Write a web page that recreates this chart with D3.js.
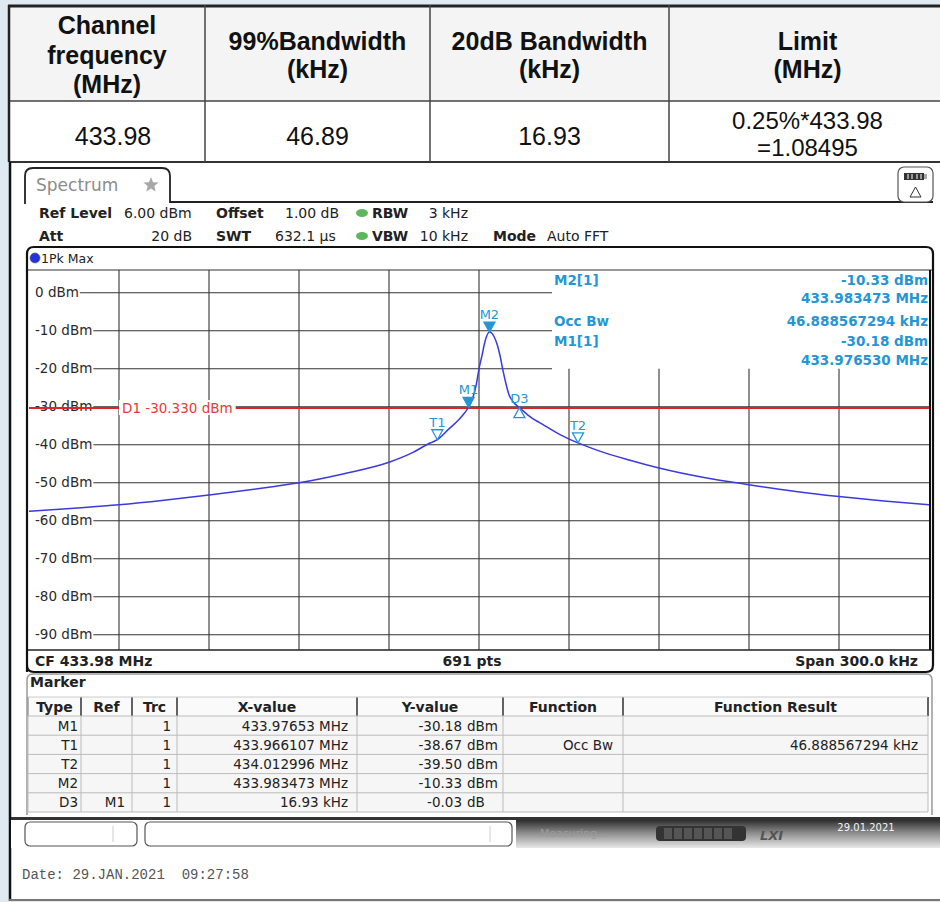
<!DOCTYPE html>
<html><head><meta charset="utf-8">
<script src="https://cdn.jsdelivr.net/npm/d3@7"></script>
<style>
html,body{margin:0;padding:0;background:#dfe9f1;}
svg{display:block;}
</style></head><body>
<svg id="c" width="940" height="902"></svg>
<script>
// ---------------- DATA ----------------
const tableHeaders = [["Channel","frequency","(MHz)"],["99%Bandwidth","(kHz)"],["20dB Bandwidth","(kHz)"],["Limit","(MHz)"]];
const tableValues = [["433.98"],["46.89"],["16.93"],["0.25%*433.98","=1.08495"]];

const centerFreq = 433.98;   // MHz
const spanKHz = 300;          // kHz
const refLevel = 6;           // dBm
const bottomLevel = -94;      // dBm
const yTickValues = [0,-10,-20,-30,-40,-50,-60,-70,-80,-90];
const displayLine = -30.33;

const traceFreq = [433.830,433.845,433.860,433.875,433.890,433.905,433.920,433.935,433.950,433.958,433.963,433.9661,433.970,433.973,433.9753,433.9765,433.978,433.979,433.980,433.981,433.982,433.9835,433.985,433.986,433.987,433.988,433.989,433.990,433.9915,433.9935,433.997,434.002,434.007,434.013,434.020,434.030,434.040,434.055,434.070,434.085,434.100,434.115,434.130];
const traceLevel = [-57.5,-56.7,-55.8,-54.6,-53.2,-51.7,-50.0,-47.6,-44.6,-42.0,-39.8,-38.67,-35.8,-33.6,-31.5,-30.18,-27.5,-24.5,-20.0,-16.5,-12.8,-10.33,-11.5,-13.5,-16.5,-20.5,-24.0,-26.8,-28.8,-30.21,-32.6,-35.0,-37.3,-39.5,-41.6,-44.0,-46.1,-48.6,-50.5,-52.2,-53.6,-54.8,-55.8];

const markerNames = ["M1","T1","T2","M2","D3"];
const markerKinds = ["fill","hollow","hollow","fill","delta"];
const markerFreq = [433.97653,433.966107,434.012996,433.983473,433.99346];
const markerLevel = [-30.18,-38.67,-39.50,-10.33,-30.21];

const markerInfoLeft = ["M2[1]","","Occ Bw","M1[1]",""];
const markerInfoRight = ["-10.33 dBm","433.983473 MHz","46.888567294 kHz","-30.18 dBm","433.976530 MHz"];

const mtHeaders = ["Type","Ref","Trc","X-value","Y-value","Function","Function Result"];
const mtType = ["M1","T1","T2","M2","D3"];
const mtRef = ["","","","","M1"];
const mtTrc = ["1","1","1","1","1"];
const mtX = ["433.97653 MHz","433.966107 MHz","434.012996 MHz","433.983473 MHz","16.93 kHz"];
const mtYnum = ["-30.18","-38.67","-39.50","-10.33","-0.03"];
const mtYunit = ["dBm","dBm","dBm","dBm","dB"];
const mtFunc = ["","Occ Bw","","",""];
const mtResult = ["","46.888567294 kHz","","",""];

// ---------------- DRAW ----------------
const svg = d3.select("#c");
const SANS = "'DejaVu Sans', Verdana, sans-serif";
const ARIAL = "'Liberation Sans', Arial, sans-serif";
const MBLUE = "#2596d5";

// defs
const defs = svg.append("defs");
const g1 = defs.append("linearGradient").attr("id","sb").attr("x1",0).attr("y1",0).attr("x2",0).attr("y2",1);
g1.append("stop").attr("offset","0%").attr("stop-color","#2e2e2e");
g1.append("stop").attr("offset","45%").attr("stop-color","#8a8a8a");
g1.append("stop").attr("offset","100%").attr("stop-color","#e8e8e8");
defs.append("clipPath").attr("id","plotclip").append("rect").attr("x",29).attr("y",270).attr("width",900).attr("height",380);

// ---- top table ----
const colX = [9,205,430,669,940];
svg.append("rect").attr("x",9).attr("y",6).attr("width",931).attr("height",95).attr("fill","#f4f4f4");
svg.append("rect").attr("x",9).attr("y",101).attr("width",931).attr("height",61).attr("fill","#fff");
svg.append("line").attr("x1",8).attr("x2",940).attr("y1",6).attr("y2",6).attr("stroke","#222").attr("stroke-width",3);
svg.append("line").attr("x1",9).attr("x2",940).attr("y1",101).attr("y2",101).attr("stroke","#444").attr("stroke-width",1.5);
svg.append("line").attr("x1",9).attr("x2",940).attr("y1",162).attr("y2",162).attr("stroke","#333").attr("stroke-width",2);
colX.slice(0,4).forEach((cx,i)=>{
  svg.append("line").attr("x1",cx).attr("x2",cx).attr("y1",5).attr("y2",162).attr("stroke",i===0?"#222":"#444").attr("stroke-width",i===0?2.5:1.5);
});
const hdrBase = [[34,64,93],[50,78],[50,78],[50,78]];
tableHeaders.forEach((lines,i)=>{
  const cx = (colX[i]+colX[i+1])/2 + (i===3?3:0);
  lines.forEach((t,j)=>{
    svg.append("text").attr("x",cx).attr("y",hdrBase[i][j]).attr("text-anchor","middle")
      .attr("font-family",ARIAL).attr("font-weight","bold").attr("font-size",25).attr("fill","#111").text(t);
  });
});
const valBase = [[145],[145],[145],[129,156]];
tableValues.forEach((lines,i)=>{
  const cx = (colX[i]+colX[i+1])/2 + (i===3?3:(i===0?6:0));
  lines.forEach((t,j)=>{
    svg.append("text").attr("x",cx).attr("y",valBase[i][j]).attr("text-anchor","middle")
      .attr("font-family",ARIAL).attr("font-size",i===3?24:25).attr("fill","#111").text(t);
  });
});

// ---- screen area ----
svg.append("rect").attr("x",9).attr("y",163).attr("width",931).attr("height",737).attr("fill","#fff");
svg.append("line").attr("x1",10).attr("x2",10).attr("y1",162).attr("y2",901).attr("stroke","#111").attr("stroke-width",2.5);
svg.append("line").attr("x1",9).attr("x2",940).attr("y1",900).attr("y2",900).attr("stroke","#777").attr("stroke-width",2);

// tab
svg.append("path").attr("d","M25,204 L25,176 Q25,168 33,168 L162,168 Q170,168 170,176 L170,202 L933,202")
  .attr("fill","none").attr("stroke","#222").attr("stroke-width",1.8);
svg.append("text").attr("x",36).attr("y",191).attr("font-family",SANS).attr("font-size",17).attr("fill","#8c8c8c").text("Spectrum");
// star
const star = d3.range(10).map(i=>{const a=-Math.PI/2+i*Math.PI/5;const r=i%2?3.5:8;return [151+r*Math.cos(a),185+r*Math.sin(a)];});
svg.append("path").attr("d","M"+star.join("L")+"Z").attr("fill","#a8a8a8");
// right icon
svg.append("rect").attr("x",898).attr("y",167).attr("width",35).attr("height",35).attr("rx",6).attr("fill","#fff").attr("stroke","#555").attr("stroke-width",1.2);
svg.append("rect").attr("x",904).attr("y",173).attr("width",20).attr("height",7).attr("fill","#333");
svg.append("rect").attr("x",924).attr("y",174).attr("width",3).attr("height",5).attr("fill","#aaa");
[908,912,917,921].forEach(xx=>svg.append("line").attr("x1",xx).attr("x2",xx).attr("y1",174).attr("y2",179).attr("stroke","#fff").attr("stroke-width",1));
svg.append("path").attr("d","M910,197 L915.5,187 L921,197 Z").attr("fill","none").attr("stroke","#333").attr("stroke-width",1);

// header parameters
function txt(x,y,t,opt={}){
  return svg.append("text").attr("x",x).attr("y",y).attr("font-family",SANS).attr("font-size",opt.size||14)
    .attr("font-weight",opt.bold?"bold":"normal").attr("fill",opt.fill||"#222").attr("text-anchor",opt.anchor||"start").text(t);
}
txt(39,218,"Ref Level",{bold:true}); txt(124,218,"6.00 dBm");
txt(39,241,"Att",{bold:true}); txt(192,241,"20 dB",{anchor:"end"});
txt(216,218,"Offset",{bold:true}); txt(285,218,"1.00 dB");
txt(216,241,"SWT",{bold:true}); txt(275,241,"632.1 µs");
[213,236].forEach(yy=>svg.append("ellipse").attr("cx",362).attr("cy",yy).attr("rx",6).attr("ry",4).attr("fill","#5cb85c"));
txt(372,218,"RBW",{bold:true}); txt(468,218,"3 kHz",{anchor:"end"});
txt(372,241,"VBW",{bold:true}); txt(468,241,"10 kHz",{anchor:"end"});
txt(493,241,"Mode",{bold:true}); txt(547,241,"Auto FFT");

// plot box
svg.append("path").attr("d","M27,672 L27,254 Q27,247 34,247 L926,247 Q933,247 933,254 L933,665 Q933,672 926,672 L34,672 Q27,672 27,665")
  .attr("fill","none").attr("stroke","#111").attr("stroke-width",2.2);
svg.append("circle").attr("cx",35).attr("cy",258).attr("r",5).attr("fill","#2233dd").attr("stroke","#557").attr("stroke-width",0.6);
txt(41,263,"1Pk Max",{size:12.5});

// scales
const x = d3.scaleLinear().domain([centerFreq - spanKHz/2000, centerFreq + spanKHz/2000]).range([29,929]);
const y = d3.scaleLinear().domain([refLevel, bottomLevel]).range([270,650]);

const grid = svg.append("g");
grid.append("line").attr("x1",28).attr("x2",932).attr("y1",270).attr("y2",270).attr("stroke","#333").attr("stroke-width",1.2);
grid.append("line").attr("x1",28).attr("x2",932).attr("y1",650).attr("y2",650).attr("stroke","#222").attr("stroke-width",1.5);
// vertical grid (10 divisions of the span)
const xDiv = d3.range(1,10).map(i=>x.domain()[0] + i*spanKHz/10/1000);
xDiv.forEach(f=>{
  const px = x(f);
  const top = px > 552 ? y(-20) : y(refLevel);
  grid.append("line").attr("x1",px).attr("x2",px).attr("y1",top).attr("y2",650).attr("stroke","#333").attr("stroke-width",1.1);
});
// horizontal grid + labels
yTickValues.forEach(v=>{
  const py = y(v);
  const label = v + " dBm";
  const t = txt(35, py+4.5, label, {size:13.5, fill:"#2a2a2a"});
  const w = t.node().getComputedTextLength();
  const right = v >= -20 ? 552 : 929;
  grid.insert("line","text").attr("x1",35+w+1).attr("x2",right).attr("y1",py).attr("y2",py).attr("stroke","#333").attr("stroke-width",1.1);
});
// right plot border
svg.append("line").attr("x1",930).attr("x2",930).attr("y1",270).attr("y2",650).attr("stroke","#111").attr("stroke-width",2);

// display line
const dl = y(displayLine);
svg.append("line").attr("x1",29).attr("x2",929).attr("y1",dl).attr("y2",dl).attr("stroke","#e02424").attr("stroke-width",2);
const dlt = txt(122, dl+5, "D1  -30.330 dBm", {size:13.5, fill:"#e83a3a"});
const dlw = dlt.node().getComputedTextLength();
svg.insert("rect", function(){return dlt.node();}).attr("x",119).attr("y",dl-8).attr("width",dlw+6).attr("height",15).attr("fill","#fff");

// trace
const traceData = traceFreq.map((f,i)=>({f, l:traceLevel[i]}));
svg.append("path").datum(traceData).attr("clip-path","url(#plotclip)")
  .attr("d", d3.line().x(d=>x(d.f)).y(d=>y(d.l)).curve(d3.curveMonotoneX))
  .attr("fill","none").attr("stroke","#3a3ae0").attr("stroke-width",1.5);

// markers
markerNames.forEach((n,i)=>{
  const px = x(markerFreq[i]), py = y(markerLevel[i]);
  const k = markerKinds[i];
  let d, ly;
  if (k==="delta"){ d = `M${px},${py} L${px-5.5},${py+10} L${px+5.5},${py+10} Z`; ly = py-5; }
  else { d = `M${px},${py} L${px-5.5},${py-10} L${px+5.5},${py-10} Z`; ly = py-13; }
  svg.append("path").attr("d",d).attr("fill",k==="fill"?MBLUE:"none").attr("stroke",MBLUE).attr("stroke-width",1.3);
  txt(px, ly, n, {size:13, fill:MBLUE, anchor:"middle"});
});

// marker info
const infoY = [285,303,326,346,365];
infoY.forEach((yy,i)=>{
  if (markerInfoLeft[i]) txt(554, yy, markerInfoLeft[i], {size:13.5, bold:true, fill:MBLUE});
  txt(928, yy, markerInfoRight[i], {size:13.5, bold:true, fill:MBLUE, anchor:"end"});
});

// bottom of plot
txt(35,666,"CF 433.98 MHz",{bold:true,size:14});
txt(472,666,"691 pts",{bold:true,size:14,anchor:"middle"});
txt(918,666,"Span 300.0 kHz",{bold:true,size:14,anchor:"end"});

// marker table panel
svg.append("path").attr("d","M27,815 L27,680 Q27,674 33,674 L926,674 Q932,674 932,680 L932,815")
  .attr("fill","none").attr("stroke","#999").attr("stroke-width",1.5);
txt(30,687,"Marker",{bold:true,size:14});
const mtCols = [28,81,132,177,357,503,623,928];
const rowTop = 716, rowH = 19.2;
svg.append("rect").attr("x",28).attr("y",697).attr("width",900).attr("height",19).attr("fill","#fafafa");
svg.append("rect").attr("x",28).attr("y",rowTop).attr("width",900).attr("height",rowH*5).attr("fill","#f6f6f6");
mtCols.forEach((cx,i)=>{
  svg.append("line").attr("x1",cx).attr("x2",cx).attr("y1",697).attr("y2",716).attr("stroke",i===0?"#999":"#222").attr("stroke-width",1.4);
  svg.append("line").attr("x1",cx).attr("x2",cx).attr("y1",716).attr("y2",rowTop+rowH*5).attr("stroke","#bbb").attr("stroke-width",1);
});
d3.range(6).forEach(r=>{
  svg.append("line").attr("x1",28).attr("x2",928).attr("y1",rowTop+r*rowH).attr("y2",rowTop+r*rowH).attr("stroke","#bbb").attr("stroke-width",1);
});
svg.append("line").attr("x1",28).attr("x2",928).attr("y1",697).attr("y2",697).attr("stroke","#ccc").attr("stroke-width",1);
mtHeaders.forEach((h,i)=>{
  txt((mtCols[i]+mtCols[i+1])/2, 712, h, {bold:true,size:14,anchor:"middle"});
});
mtType.forEach((t,r)=>{
  const by = rowTop + r*rowH + 14.5;
  txt(78,by,t,{size:13.5,anchor:"end"});
  if (mtRef[r]) txt(125,by,mtRef[r],{size:13.5,anchor:"end"});
  txt(171,by,mtTrc[r],{size:13.5,anchor:"end"});
  txt(348,by,mtX[r],{size:13.5,anchor:"end"});
  txt(462,by,mtYnum[r],{size:13.5,anchor:"end"});
  txt(467,by,mtYunit[r],{size:13.5});
  if (mtFunc[r]) txt(613,by,mtFunc[r],{size:13.5,anchor:"end"});
  if (mtResult[r]) txt(918,by,mtResult[r],{size:13.5,anchor:"end"});
});

// status bar
svg.append("rect").attr("x",11).attr("y",817).attr("width",929).attr("height",3).attr("fill","#333");
svg.append("rect").attr("x",11).attr("y",820).attr("width",929).attr("height",28).attr("fill","url(#sb)");
svg.append("rect").attr("x",11).attr("y",820).attr("width",505).attr("height",28).attr("fill","#fff");
svg.append("rect").attr("x",25).attr("y",822).attr("width",112).attr("height",24).attr("rx",5).attr("fill","#fff").attr("stroke","#555").attr("stroke-width",1.2);
svg.append("line").attr("x1",113).attr("x2",113).attr("y1",826).attr("y2",842).attr("stroke","#ccc");
svg.append("rect").attr("x",145).attr("y",822).attr("width",367).attr("height",24).attr("rx",5).attr("fill","#fff").attr("stroke","#555").attr("stroke-width",1.2);
svg.append("line").attr("x1",490).attr("x2",490).attr("y1",826).attr("y2",842).attr("stroke","#ccc");
txt(540,837,"Measuring...",{size:11,fill:"#9a9a9a"});
svg.append("rect").attr("x",656).attr("y",826).attr("width",90).attr("height",15).attr("rx",4).attr("fill","#333");
d3.range(7).forEach(i=>svg.append("rect").attr("x",664+i*10).attr("y",828).attr("width",8).attr("height",11).attr("fill","#555"));
txt(760,840,"LXI",{size:13,bold:true,fill:"#555"}).attr("font-style","italic");
txt(866,831,"29.01.2021",{size:10,fill:"#f4f4f4",anchor:"middle"});

// date
svg.append("text").attr("x",22).attr("y",879).attr("font-family","'Liberation Mono', 'DejaVu Sans Mono', monospace")
  .attr("font-size",14).attr("fill","#555").attr("xml:space","preserve").text("Date: 29.JAN.2021  09:27:58");
</script>
</body></html>
